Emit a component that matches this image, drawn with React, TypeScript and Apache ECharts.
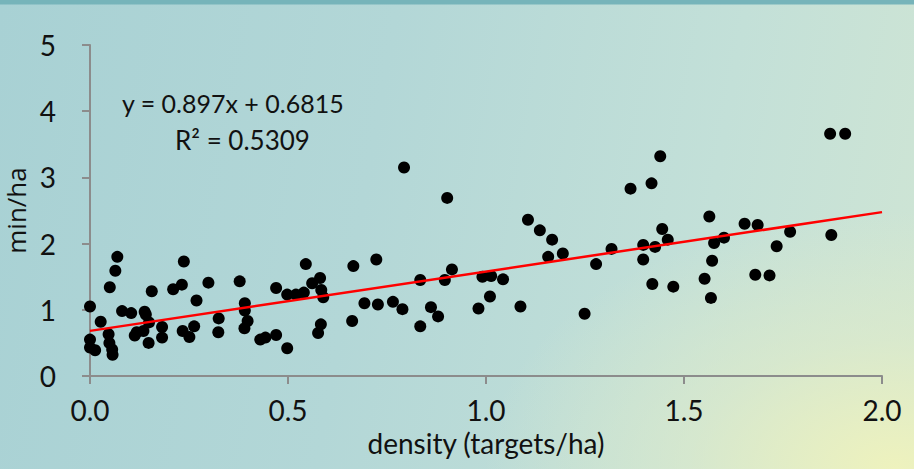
import React, { useEffect, useRef } from "react";
import * as echarts from "echarts";

const densityX = [
  0.0, 0.027, 0.069, 0.064, 0.05, 0.081, 0.104, 0.138, 0.141, 0.149, 0.156,
  0.0, 0.0, 0.013, 0.047, 0.049, 0.056, 0.057, 0.113, 0.118, 0.135, 0.148,
  0.182, 0.182, 0.21, 0.232, 0.237, 0.269, 0.299, 0.234, 0.251, 0.263, 0.325,
  0.324, 0.378, 0.391, 0.391, 0.398, 0.39, 0.43, 0.443, 0.47, 0.498, 0.47,
  0.498, 0.52, 0.54, 0.545, 0.561, 0.581, 0.584, 0.589, 0.583, 0.576, 0.665,
  0.723, 0.662, 0.693, 0.727, 0.765, 0.789, 0.834, 0.834, 0.861, 0.879, 0.896,
  0.914, 0.981, 0.991, 1.013, 1.01, 1.043, 1.087, 0.793, 0.902, 1.106, 1.136,
  1.167, 1.157, 1.194, 1.278, 1.869, 1.907, 1.44, 1.418, 1.365, 1.564, 1.653,
  1.686, 1.768, 1.872, 1.445, 1.459, 1.397, 1.427, 1.317, 1.397, 1.576, 1.601,
  1.571, 1.734, 1.42, 1.473, 1.552, 1.568, 1.68, 1.716, 1.249,
];

const minPerHa = [
  1.05, 0.82, 1.8, 1.59, 1.34, 0.98, 0.95, 0.97, 0.93, 0.81, 1.28,
  0.55, 0.43, 0.39, 0.63, 0.5, 0.4, 0.32, 0.61, 0.66, 0.68, 0.5,
  0.74, 0.58, 1.31, 1.38, 1.73, 1.14, 1.41, 0.68, 0.59, 0.75, 0.87,
  0.66, 1.43, 1.1, 0.99, 0.83, 0.72, 0.55, 0.58, 0.62, 0.42, 1.33,
  1.23, 1.23, 1.26, 1.69, 1.4, 1.48, 1.3, 1.19, 0.78, 0.65, 1.66,
  1.76, 0.83, 1.1, 1.08, 1.12, 1.01, 1.45, 0.75, 1.04, 0.9, 1.45,
  1.61, 1.02, 1.5, 1.51, 1.2, 1.46, 1.05, 3.15, 2.69, 2.36, 2.2,
  2.06, 1.8, 1.85, 1.69, 3.66, 3.66, 3.32, 2.91, 2.83, 2.41, 2.3,
  2.28, 2.18, 2.13, 2.22, 2.06, 1.98, 1.95, 1.92, 1.76, 2.01, 2.09,
  1.74, 1.96, 1.39, 1.35, 1.47, 1.18, 1.53, 1.52, 0.94,
];

const slope = 0.897;
const intercept = 0.6815;
const trendX = [0, 2.0];
const equationText = "y = 0.897x + 0.6815";
const rSquaredText = "R² = 0.5309";

const xTicks = { min: 0, max: 2.0, interval: 0.5 };
const yTicks = { min: 0, max: 5, interval: 1 };

const FONT = "Lato, 'Open Sans', sans-serif";

export default function App() {
  const ref = useRef<HTMLDivElement>(null);

  useEffect(() => {
    if (!ref.current) return;
    const chart = echarts.init(ref.current, null, { renderer: "svg" });
    const points = densityX.map((x, i) => [x, minPerHa[i]]);
    const trend = trendX.map((x) => [x, slope * x + intercept]);
    const axisColor = "#8c8c8c";

    chart.setOption({
      animation: false,
      backgroundColor: "transparent",
      grid: {
        left: 90,
        right: 32,
        top: 45,
        bottom: 93,
        containLabel: false,
        outerBoundsMode: "none",
      },
      xAxis: {
        type: "value",
        min: xTicks.min,
        max: xTicks.max,
        interval: xTicks.interval,
        name: "density (targets/ha)",
        nameLocation: "middle",
        nameGap: 52,
        nameTextStyle: { color: "#111", fontSize: 28, fontFamily: FONT },
        axisLine: { show: true, lineStyle: { color: axisColor, width: 2 } },
        axisTick: { show: true, length: 8, lineStyle: { color: axisColor, width: 2 } },
        axisLabel: {
          color: "#111",
          fontSize: 28,
          fontFamily: FONT,
          margin: 20,
          formatter: (v: number) => v.toFixed(1),
        },
        splitLine: { show: false },
      },
      yAxis: {
        type: "value",
        min: yTicks.min,
        max: yTicks.max,
        interval: yTicks.interval,
        name: "min/ha",
        nameLocation: "middle",
        nameGap: 57,
        nameTextStyle: { color: "#111", fontSize: 26, fontFamily: "'Open Sans', sans-serif" },
        axisLine: { show: true, lineStyle: { color: axisColor, width: 2 } },
        axisTick: { show: true, length: 8, lineStyle: { color: axisColor, width: 2 } },
        axisLabel: { color: "#111", fontSize: 28, fontFamily: FONT, margin: 34 },
        splitLine: { show: false },
      },
      series: [
        {
          type: "scatter",
          data: points,
          symbol: "circle",
          symbolSize: 12,
          itemStyle: { color: "#000", opacity: 1 },
          z: 3,
        },
        {
          type: "line",
          data: trend,
          showSymbol: false,
          symbol: "none",
          lineStyle: { color: "#ff0000", width: 2.5 },
          z: 4,
        },
      ],
      graphic: [
        {
          type: "text",
          left: 122,
          top: 90,
          style: { text: equationText, fill: "#111", font: `25px ${FONT}` },
        },
        {
          type: "text",
          left: 175,
          top: 127,
          style: { text: rSquaredText, fill: "#111", font: `26px ${FONT}` },
        },
      ],
    });

    return () => chart.dispose();
  }, []);

  return (
    <div
      style={{
        position: "fixed",
        left: 0,
        top: 0,
        width: 914,
        height: 469,
        background:
          "linear-gradient(180deg, #76b4ba 0px, #76b4ba 4px, rgba(0,0,0,0) 5px), radial-gradient(ellipse 45% 55% at 98% 100%, #eef2bd 0%, rgba(225,236,200,0.6) 50%, rgba(200,225,210,0) 100%), linear-gradient(100deg, #a8d1d4 0%, #b3d7d7 40%, #c3e0d8 75%, #cfe5d4 100%)",
      }}
    >
      <div ref={ref} style={{ width: 914, height: 469 }} />
    </div>
  );
}
